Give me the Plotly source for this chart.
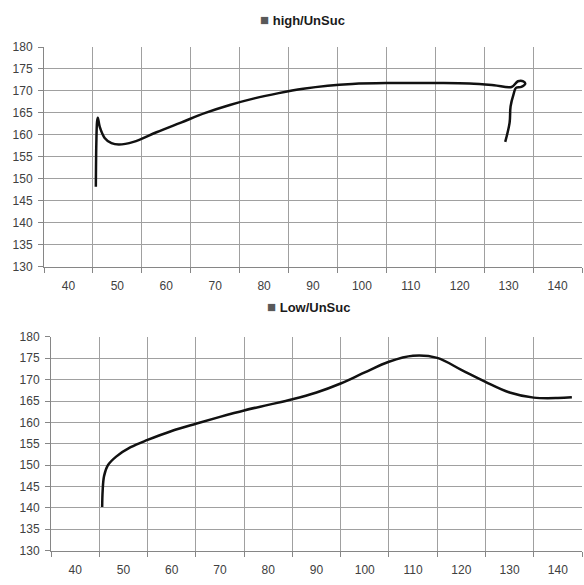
import plotly.graph_objects as go

# Series: high / unsuccessful
high_x = [45.6, 45.7, 45.85, 46.0, 46.4, 47.4, 48.8, 50.3, 53.3, 58.0, 63.0, 68.0, 73.0,
          78.0, 83.0, 88.0, 93.0, 98.0, 105.0, 115.0, 122.0, 127.0, 130.6, 131.9, 133.0, 133.4,
          132.6, 131.5, 131.0, 130.4, 130.2, 129.3]
high_y = [148.2, 158.0, 163.0, 163.9, 161.8, 159.3, 158.1, 157.8, 158.4, 160.6, 162.8, 165.0, 166.8,
          168.3, 169.5, 170.5, 171.2, 171.6, 171.8, 171.8, 171.7, 171.3, 170.9, 172.2, 172.2, 171.7,
          170.9, 170.7, 169.2, 166.5, 162.8, 158.4]

# Series: low / unsuccessful
low_x = [45.6, 45.7, 46.0, 46.8, 48.5, 51.5, 55.0, 60.0, 65.0, 70.0, 75.0, 80.0, 85.0, 90.0,
         95.0, 100.0, 105.0, 110.0, 115.0, 120.0, 125.0, 130.0, 135.0, 140.0, 142.9]
low_y = [140.2, 144.0, 147.5, 150.0, 152.0, 154.2, 155.9, 158.0, 159.7, 161.3, 162.8, 164.1, 165.4, 167.0,
         169.1, 171.7, 174.2, 175.6, 175.1, 172.3, 169.5, 167.0, 165.8, 165.7, 165.9]

x_labels = [40, 50, 60, 70, 80, 90, 100, 110, 120, 130, 140]
x_grid = [35, 45, 55, 65, 75, 85, 95, 105, 115, 125, 135, 145]
y_ticks = [130, 135, 140, 145, 150, 155, 160, 165, 170, 175, 180]

W, H = 584, 585
grid_c = "#a0a0a0"
axis_c = "#868686"
font_c = "#404040"
tick_font = dict(family="Liberation Sans, Arial", size=12, color=font_c)

fig = go.Figure()
fig.add_trace(go.Scatter(x=high_x, y=high_y, mode="lines", xaxis="x", yaxis="y",
                         line=dict(color="#111111", width=2.5, shape="spline", smoothing=1.0),
                         showlegend=False, hoverinfo="skip"))
fig.add_trace(go.Scatter(x=low_x, y=low_y, mode="lines", xaxis="x2", yaxis="y2",
                         line=dict(color="#111111", width=2.5, shape="spline", smoothing=1.0),
                         showlegend=False, hoverinfo="skip"))


def x_axis(domain, anchor):
    return dict(domain=domain, anchor=anchor, range=[35, 145],
                tickvals=x_labels, ticktext=[str(v) for v in x_labels],
                ticks="", showgrid=False, zeroline=False,
                showline=True, linecolor=axis_c, linewidth=1,
                tickfont=tick_font, ticklabelstandoff=8,
                minor=dict(tickvals=x_grid, showgrid=True, gridcolor=grid_c, gridwidth=1,
                           ticks="outside", ticklen=5, tickcolor=axis_c))


def y_axis(domain, anchor):
    return dict(domain=domain, anchor=anchor, range=[130, 180],
                tickvals=y_ticks, showgrid=True, gridcolor=grid_c, gridwidth=1,
                zeroline=False, showline=True, linecolor=axis_c, linewidth=1,
                ticks="outside", ticklen=5, tickcolor=axis_c,
                tickfont=tick_font, ticklabelstandoff=3)


fig.update_layout(
    width=W, height=H,
    margin=dict(l=0, r=0, t=0, b=0),
    paper_bgcolor="white", plot_bgcolor="white",
    xaxis=x_axis([44 / W, 582 / W], "y"),
    yaxis=y_axis([1 - 266 / H, 1 - 41 / H], "x"),
    xaxis2=x_axis([51 / W, 582 / W], "y2"),
    yaxis2=y_axis([1 - 557 / H, 1 - 338 / H], "x2"),
    annotations=[
        dict(text="<span style='color:#595959;font-size:15px'>■</span> <b>high/UnSuc</b>",
             x=302 / W, y=1 - 13 / H, xref="paper", yref="paper", showarrow=False,
             xanchor="center", yanchor="middle",
             font=dict(family="Liberation Sans, Arial", size=13, color="#1a1a1a")),
        dict(text="<span style='color:#595959;font-size:15px'>■</span> <b>Low/UnSuc</b>",
             x=309 / W, y=1 - 307 / H, xref="paper", yref="paper", showarrow=False,
             xanchor="center", yanchor="middle",
             font=dict(family="Liberation Sans, Arial", size=13, color="#1a1a1a")),
    ],
)

fig.write_html("out.html")
